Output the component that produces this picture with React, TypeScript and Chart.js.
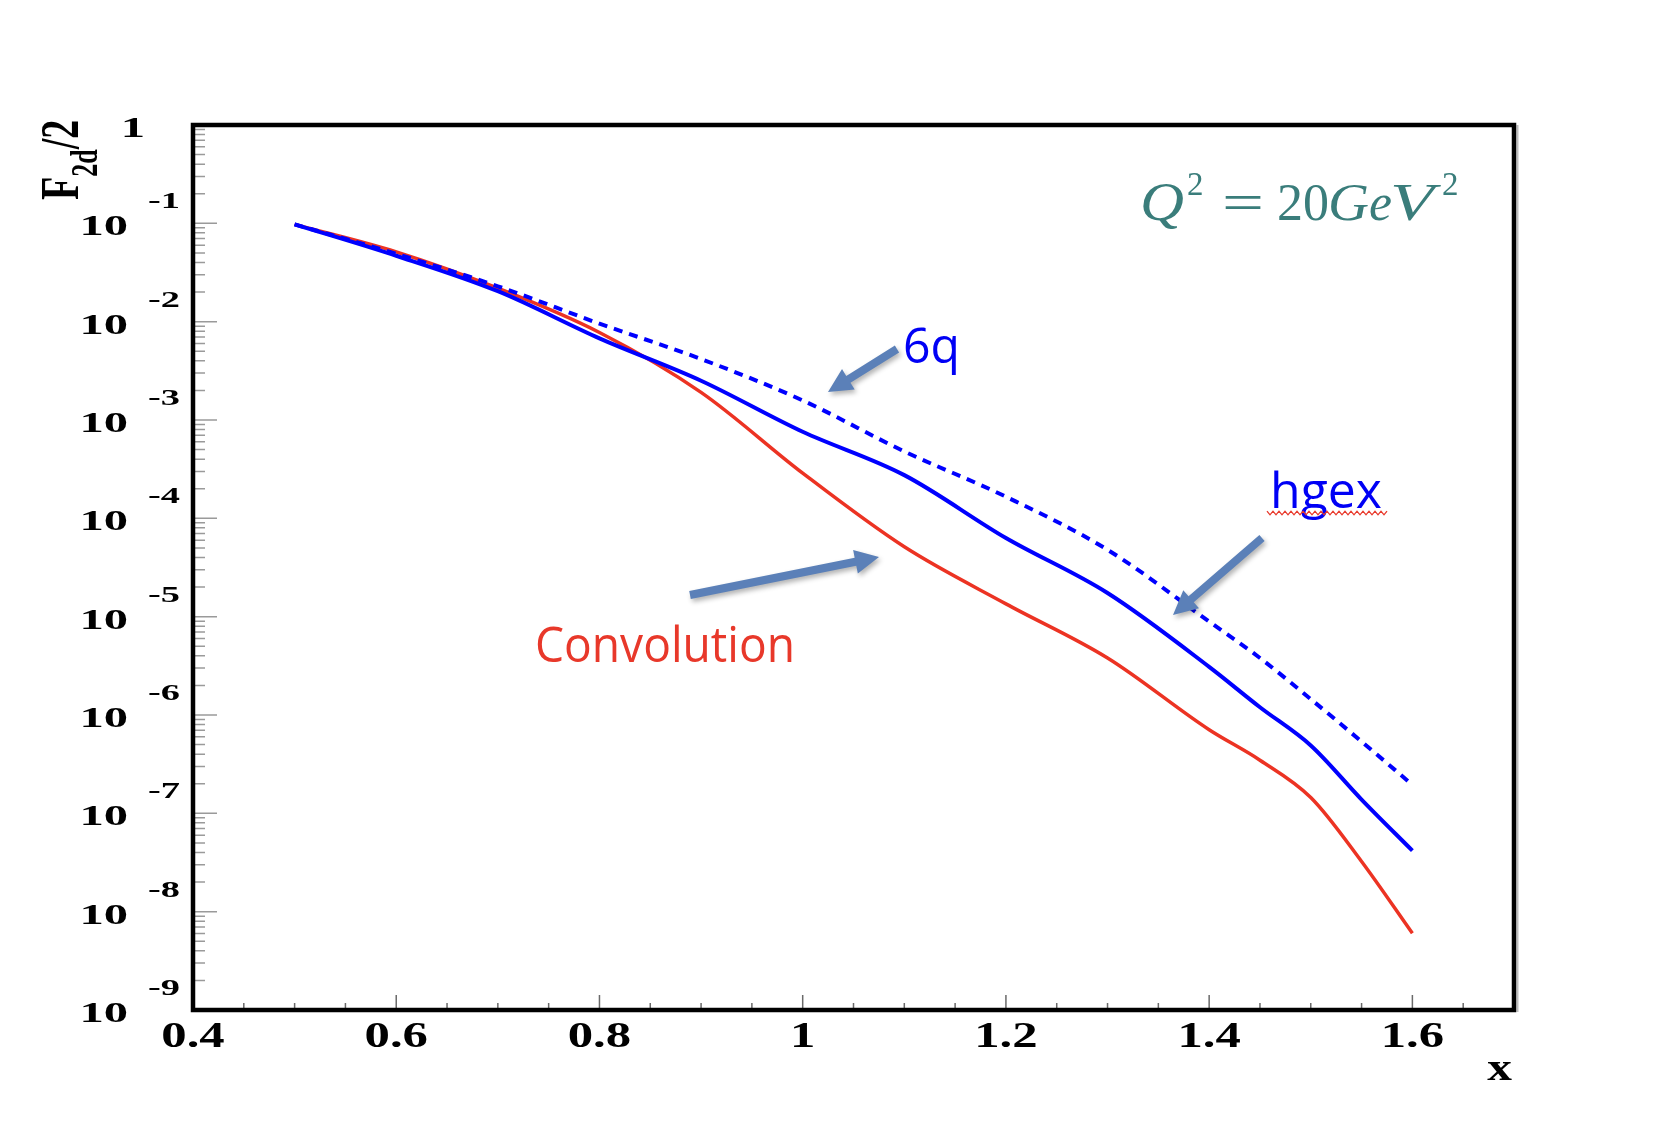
import React, { useEffect, useRef } from 'react';
import { Chart, registerables } from 'chart.js';

Chart.register(...registerables);

// ---- data ----
const X_VALUES = [0.5, 0.6, 0.7, 0.8, 0.9, 1.0, 1.1, 1.2, 1.3, 1.4, 1.45, 1.5, 1.55, 1.6];
const HGEX_VALUES = [0.0977, 0.0468, 0.0204, 6.76e-3, 2.51e-3, 7.59e-4, 2.75e-4, 6.31e-5, 1.74e-5, 3.09e-6, 1.2e-6, 4.9e-7, 1.38e-7, 4.17e-8];
const SIXQ_VALUES = [0.0977, 0.049, 0.0229, 9.55e-3, 4.17e-3, 1.58e-3, 4.79e-4, 1.66e-4, 4.79e-5, 8.91e-6, 3.8e-6, 1.45e-6, 5.37e-7, 1.95e-7];
const CONVOLUTION_VALUES = [0.0977, 0.0513, 0.0219, 7.76e-3, 1.91e-3, 2.88e-4, 5.13e-5, 1.35e-5, 3.8e-6, 7.08e-7, 3.47e-7, 1.45e-7, 3.24e-8, 6.03e-9];
const X_TICK_VALUES = [0.4, 0.6, 0.8, 1.0, 1.2, 1.4, 1.6];
const X_TICK_LABELS = ['0.4', '0.6', '0.8', '1', '1.2', '1.4', '1.6'];
const Y_EXPONENTS = [0, -1, -2, -3, -4, -5, -6, -7, -8, -9];

const SERIF = "'Liberation Serif', 'Times New Roman', serif";
const SANS = "'Open Sans', 'Noto Sans', sans-serif";

function drawText(ctx: CanvasRenderingContext2D, s: string, x: number, y: number, font: string, color: string, align: CanvasTextAlign = 'left', sx = 1) {
  ctx.save();
  ctx.font = font;
  ctx.fillStyle = color;
  ctx.textAlign = align;
  ctx.textBaseline = 'alphabetic';
  ctx.translate(x, y);
  ctx.scale(sx, 1);
  ctx.fillText(s, 0, 0);
  ctx.restore();
}

function drawFitted(ctx: CanvasRenderingContext2D, s: string, left: number, base: number, font: string, color: string, width: number) {
  ctx.save();
  ctx.font = font;
  const w = ctx.measureText(s).width;
  ctx.restore();
  drawText(ctx, s, left, base, font, color, 'left', width / w);
}

function drawArrow(ctx: CanvasRenderingContext2D, x1: number, y1: number, x2: number, y2: number) {
  const shaft = 8, headLen = 24, headW = 24;
  const ang = Math.atan2(y2 - y1, x2 - x1);
  const len = Math.hypot(x2 - x1, y2 - y1);
  ctx.save();
  ctx.shadowColor = 'rgba(0,0,0,0.3)';
  ctx.shadowBlur = 5;
  ctx.shadowOffsetX = 2;
  ctx.shadowOffsetY = 3;
  ctx.translate(x1, y1);
  ctx.rotate(ang);
  ctx.beginPath();
  ctx.moveTo(0, -shaft / 2);
  ctx.lineTo(len - headLen, -shaft / 2);
  ctx.lineTo(len - headLen, -headW / 2);
  ctx.lineTo(len, 0);
  ctx.lineTo(len - headLen, headW / 2);
  ctx.lineTo(len - headLen, shaft / 2);
  ctx.lineTo(0, shaft / 2);
  ctx.closePath();
  ctx.fillStyle = '#5b80b8';
  ctx.fill();
  ctx.restore();
}

const rootFramePlugin = {
  id: 'rootFrame',
  afterDraw(chart: any) {
    const ctx: CanvasRenderingContext2D = chart.ctx;
    const a = chart.chartArea;
    const xs = chart.scales.x;
    const ys = chart.scales.y;
    ctx.save();

    // y minor ticks
    ctx.strokeStyle = '#9a9a9a';
    ctx.lineWidth = 1.5;
    ctx.beginPath();
    for (let e = -9; e < 0; e++) {
      for (let k = 2; k <= 9; k++) {
        const py = ys.getPixelForValue(k * Math.pow(10, e));
        ctx.moveTo(a.left, py);
        ctx.lineTo(a.left + 12, py);
      }
    }
    for (let e = -8; e < 0; e++) {
      const py = ys.getPixelForValue(Math.pow(10, e));
      ctx.moveTo(a.left, py);
      ctx.lineTo(a.left + 24, py);
    }
    ctx.stroke();

    // x ticks
    ctx.strokeStyle = '#6a6a6a';
    ctx.beginPath();
    for (let i = 9; i <= 33; i++) {
      const px = xs.getPixelForValue(i * 0.05);
      const len = i % 4 === 0 ? 15 : 7;
      ctx.moveTo(px, a.bottom);
      ctx.lineTo(px, a.bottom - len);
    }
    ctx.stroke();

    // frame
    ctx.strokeStyle = '#bbbbbb';
    ctx.lineWidth = 2;
    ctx.beginPath();
    ctx.moveTo(a.right + 3.5, a.top);
    ctx.lineTo(a.right + 3.5, a.bottom + 2);
    ctx.stroke();
    ctx.strokeStyle = '#000';
    ctx.lineWidth = 4.5;
    ctx.strokeRect(a.left, a.top, a.right - a.left, a.bottom - a.top);

    // y labels
    Y_EXPONENTS.forEach((e) => {
      const py = ys.getPixelForValue(Math.pow(10, e));
      if (e === 0) {
        drawText(ctx, '1', 145, py + 12, `bold 30px ${SERIF}`, '#000', 'right', 1.62);
      } else {
        drawText(ctx, '10', 128, py + 12, `bold 30px ${SERIF}`, '#000', 'right', 1.62);
        drawText(ctx, String(e), 148, py - 15, `bold 24px ${SERIF}`, '#000', 'left', 1.6);
      }
    });

    // x labels
    X_TICK_VALUES.forEach((v, i) => {
      const px = xs.getPixelForValue(v);
      drawText(ctx, X_TICK_LABELS[i], px, 1047, `bold 35px ${SERIF}`, '#000', 'center', 1.45);
    });

    // x title
    drawText(ctx, 'x', 1512, 1080, `bold 38px ${SERIF}`, '#000', 'right', 1.3);

    // y title (rotated)
    ctx.save();
    ctx.translate(78, 200);
    ctx.rotate(-Math.PI / 2);
    ctx.scale(1, 1.45);
    ctx.fillStyle = '#000';
    ctx.textBaseline = 'alphabetic';
    ctx.textAlign = 'left';
    ctx.font = `bold 38px ${SERIF}`;
    const wF = ctx.measureText('F').width;
    ctx.fillText('F', 0, 0);
    ctx.font = `bold 26px ${SERIF}`;
    const wSub = ctx.measureText('2d').width;
    ctx.fillText('2d', wF, 13);
    ctx.font = `bold 38px ${SERIF}`;
    ctx.fillText('/2', wF + wSub, 0);
    ctx.restore();

    // Q^2 annotation
    const teal = '#3a7d7b';
    drawFitted(ctx, 'Q', 1140, 220, `italic 54px ${SERIF}`, teal, 44);
    drawText(ctx, '2', 1187, 195, `33px ${SERIF}`, teal);
    drawFitted(ctx, '=', 1222, 220, `52px ${SERIF}`, teal, 42);
    drawText(ctx, '20', 1277, 220, `52px ${SERIF}`, teal);
    drawFitted(ctx, 'G', 1328, 220, `italic 52px ${SERIF}`, teal, 41);
    drawFitted(ctx, 'e', 1369, 220, `italic 52px ${SERIF}`, teal, 23);
    drawFitted(ctx, 'V', 1390, 220, `italic 52px ${SERIF}`, teal, 44);
    drawText(ctx, '2', 1442, 195, `33px ${SERIF}`, teal);

    // labels
    drawFitted(ctx, '6q', 903, 363, `50px ${SANS}`, '#0000f5', 57);
    drawFitted(ctx, 'hgex', 1270, 508, `50px ${SANS}`, '#0000f5', 112);
    drawFitted(ctx, 'Convolution', 535, 662, `49px ${SANS}`, '#e8382a', 260);

    // spell-check squiggle under hgex
    ctx.strokeStyle = '#e8382a';
    ctx.lineWidth = 1.3;
    ctx.beginPath();
    for (let px = 1267, k = 0; px <= 1387; px += 3, k++) {
      const py = 513 + (k % 2 === 0 ? -1.8 : 1.8);
      if (k === 0) ctx.moveTo(px, py); else ctx.lineTo(px, py);
    }
    ctx.stroke();

    // arrows
    drawArrow(ctx, 897, 349, 828, 392);
    drawArrow(ctx, 690, 595, 879, 557);
    drawArrow(ctx, 1262, 538, 1173, 615);

    ctx.restore();
  },
};

export default function App() {
  const ref = useRef<HTMLCanvasElement | null>(null);
  useEffect(() => {
    if (!ref.current) return;
    const pts = (vals: number[]) => X_VALUES.map((x, i) => ({ x, y: vals[i] }));
    const common = { pointRadius: 0, fill: false, cubicInterpolationMode: 'monotone' };
    const chart = new Chart(ref.current, {
      type: 'line',
      data: {
        datasets: [
          { ...common, label: '6q', data: pts(SIXQ_VALUES), borderColor: '#0000ff', borderWidth: 4, borderDash: [9, 7] },
          { ...common, label: 'hgex', data: pts(HGEX_VALUES), borderColor: '#0000ff', borderWidth: 4 },
          { ...common, label: 'Convolution', data: pts(CONVOLUTION_VALUES), borderColor: '#ec3323', borderWidth: 3.5 },
        ],
      },
      options: {
        animation: false,
        responsive: false,
        devicePixelRatio: 1,
        layout: { padding: { left: 193, right: 142, top: 125, bottom: 136 } },
        plugins: { legend: { display: false }, tooltip: { enabled: false } },
        scales: {
          x: { type: 'linear', min: 0.4, max: 1.7, display: false },
          y: { type: 'logarithmic', min: 1e-9, max: 1, display: false },
        },
      },
      plugins: [rootFramePlugin],
    } as any);
    return () => chart.destroy();
  }, []);
  return (
    <div style={{ position: 'absolute', left: 0, top: 0, width: 1656, height: 1146, background: '#fff' }}>
      <canvas ref={ref} width={1656} height={1146} style={{ width: 1656, height: 1146, display: 'block' }} />
    </div>
  );
}
